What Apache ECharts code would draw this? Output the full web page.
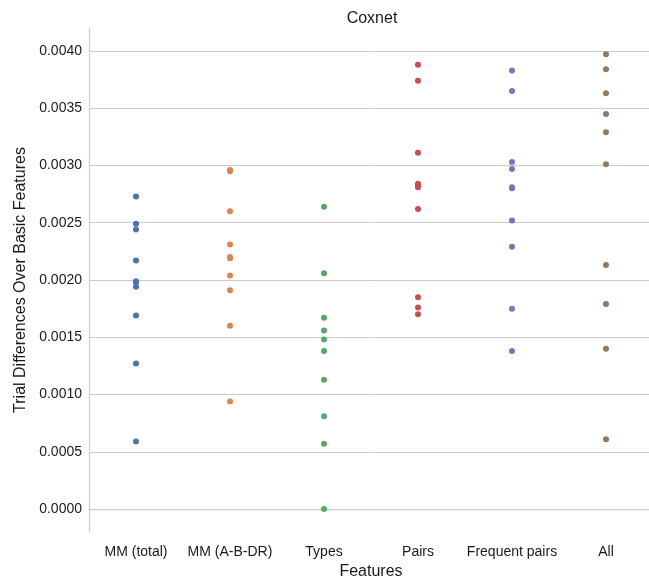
<!DOCTYPE html>
<html>
<head>
<meta charset="utf-8">
<script src="https://cdn.jsdelivr.net/npm/echarts@6/dist/echarts.min.js"></script>
<style>
  html, body { margin: 0; padding: 0; background: #fff; }
  #chart { width: 649px; height: 579px; }
</style>
</head>
<body>
<div id="chart"></div>
<script>
// 类别
var categories = ['MM (total)', 'MM (A-B-DR)', 'Types', 'Pairs', 'Frequent pairs', 'All'];
var yTicks = [0, 0.0005, 0.001, 0.0015, 0.002, 0.0025, 0.003, 0.0035, 0.004];

var mmTotal = [0.00273, 0.00249, 0.00244, 0.00217, 0.00199, 0.00198, 0.00194, 0.00169, 0.00127, 0.00059];
var mmABDR = [0.00296, 0.00295, 0.00260, 0.00231, 0.00220, 0.00219, 0.00204, 0.00191, 0.00160, 0.00094];
var types = [0.00264, 0.00206, 0.00167, 0.00156, 0.00148, 0.00138, 0.00113, 0.00081, 0.00057, 0.0];
var pairs = [0.00388, 0.00374, 0.00311, 0.00284, 0.00282, 0.00281, 0.00262, 0.00185, 0.00176, 0.00170];
var freqPairs = [0.00383, 0.00365, 0.00303, 0.00297, 0.00281, 0.00280, 0.00252, 0.00229, 0.00175, 0.00138];
var allFeat = [0.00397, 0.00384, 0.00363, 0.00345, 0.00329, 0.00301, 0.00213, 0.00179, 0.00140, 0.00061];

var groups = [mmTotal, mmABDR, types, pairs, freqPairs, allFeat];
var colors = ['#4C72B0', '#DD8452', '#55A868', '#C44E52', '#8172B3', '#937860'];

var textColor = '#1a1a1a';
var font = 'Liberation Sans, Arial, sans-serif';

var chart = echarts.init(document.getElementById('chart'));

var series = groups.map(function (vals, i) {
  return {
    name: categories[i],
    type: 'scatter',
    symbolSize: 6,
    itemStyle: { color: colors[i], opacity: 1 },
    data: vals.map(function (v) { return [categories[i], v]; })
  };
});

chart.setOption({
  animation: false,
  title: {
    text: 'Coxnet',
    left: 367,
    textAlign: 'center',
    top: 6,
    textStyle: { fontSize: 16, fontWeight: 'normal', color: textColor, fontFamily: font }
  },
  grid: {
    left: 89,
    right: -4,
    top: 28,
    bottom: 47,
    containLabel: false,
    outerBoundsMode: 'none'
  },
  xAxis: {
    type: 'category',
    data: categories,
    boundaryGap: true,
    name: 'Features',
    nameLocation: 'middle',
    nameGap: 31,
    nameTextStyle: { fontSize: 16, color: textColor, fontFamily: font },
    axisLine: { lineStyle: { color: '#cccccc', width: 1.25 } },
    axisTick: { show: false },
    axisLabel: { fontSize: 14, color: textColor, fontFamily: font, margin: 13, interval: 0 },
    splitLine: { show: false }
  },
  yAxis: {
    type: 'value',
    min: -0.0002,
    max: 0.0042,
    name: 'Trial Differences Over Basic Features',
    nameLocation: 'middle',
    nameGap: 59,
    nameTextStyle: { fontSize: 16, color: textColor, fontFamily: font },
    axisLine: { show: true, lineStyle: { color: '#cccccc', width: 1.25 } },
    axisTick: { show: false, customValues: yTicks },
    axisLabel: {
      customValues: yTicks,
      fontSize: 14,
      color: textColor,
      fontFamily: font,
      margin: 7,
      formatter: function (v) { return v.toFixed(4); }
    },
    splitLine: { show: true, lineStyle: { color: '#cccccc', width: 1 } }
  },
  series: series
});
</script>
</body>
</html>
